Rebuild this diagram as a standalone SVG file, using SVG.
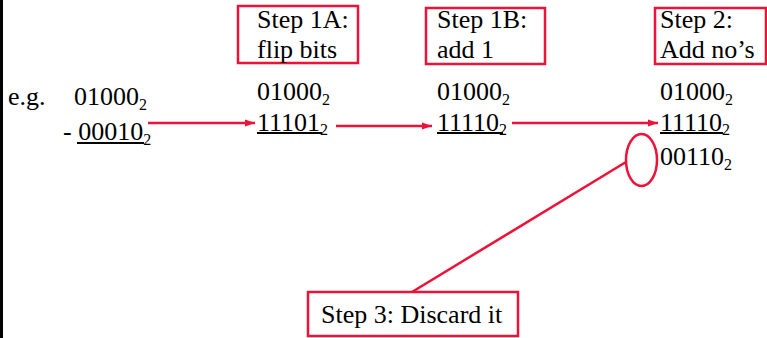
<svg xmlns="http://www.w3.org/2000/svg" width="767" height="338" viewBox="0 0 767 338">
  <defs>
    <style>
      .t { font-family: "Liberation Serif", "Times New Roman", serif; font-size: 26px; fill: #000; }
      .sub { font-size: 16px; }
      .box { fill: none; stroke: #ee1138; stroke-width: 2.5; }
      .wire { fill: none; stroke: #ee1138; stroke-width: 2.5; }
      .ul { stroke: #000; stroke-width: 2; }
    </style>
    <marker id="head" viewBox="0 0 10 10" refX="10" refY="5" markerWidth="10" markerHeight="10" markerUnits="userSpaceOnUse" orient="auto">
      <path d="M0,1.5 L10,5 L0,8.5 Z" fill="#ee1138"/>
    </marker>
  </defs>
  <rect width="767" height="338" fill="#fff"/>
  <line x1="1.5" y1="0" x2="1.5" y2="338" stroke="#000" stroke-width="3"/>

  <!-- worked example: 01000 - 00010 -->
  <g id="example" font-family="Liberation Serif, serif">
    <text class="t" x="8" y="105">e.g.</text>
    <text class="t" x="74" y="105">01000<tspan class="sub" dy="5">2</tspan></text>
    <text class="t" x="63" y="140">- 00010<tspan class="sub" dy="5">2</tspan></text>
    <line class="ul" x1="77" y1="143" x2="144" y2="143"/>
  </g>

  <g id="step1a">
    <rect class="box" x="238" y="6" width="120" height="57"/>
    <text class="t" x="257" y="28">Step 1A:</text>
    <text class="t" x="257" y="58">flip bits</text>
    <text class="t" x="257" y="100">01000<tspan class="sub" dy="5">2</tspan></text>
    <text class="t" x="257" y="131">11101<tspan class="sub" dy="4">2</tspan></text>
    <line class="ul" x1="257" y1="133" x2="322" y2="133"/>
  </g>

  <g id="step1b">
    <rect class="box" x="426" y="8" width="119" height="56"/>
    <text class="t" x="437" y="28">Step 1B:</text>
    <text class="t" x="437" y="58">add 1</text>
    <text class="t" x="437" y="100">01000<tspan class="sub" dy="5">2</tspan></text>
    <text class="t" x="437" y="131">11110<tspan class="sub" dy="4">2</tspan></text>
    <line class="ul" x1="437" y1="133" x2="503" y2="133"/>
  </g>

  <g id="step2">
    <rect class="box" x="655" y="8" width="111" height="56"/>
    <text class="t" x="660" y="28">Step 2:</text>
    <text class="t" x="660" y="58">Add no’s</text>
    <text class="t" x="660" y="100">01000<tspan class="sub" dy="5">2</tspan></text>
    <text class="t" x="660" y="131">11110<tspan class="sub" dy="4">2</tspan></text>
    <line class="ul" x1="660" y1="133" x2="723" y2="133"/>
    <text class="t" x="660" y="165">00110<tspan class="sub" dy="5">2</tspan></text>
  </g>

  <g id="carry">
    <ellipse class="box" cx="641.5" cy="160" rx="15.5" ry="26"/>
  </g>

  <g id="step3">
    <rect class="box" x="308" y="292" width="210" height="44"/>
    <text class="t" x="321" y="323">Step 3: Discard it</text>
  </g>

  <!-- connectors -->
  <g id="connectors">
    <line class="wire" x1="148" y1="123" x2="255" y2="123" marker-end="url(#head)"/>
    <line class="wire" x1="336" y1="126" x2="432" y2="126" marker-end="url(#head)"/>
    <line class="wire" x1="512" y1="123" x2="658" y2="123" marker-end="url(#head)"/>
    <line class="wire" x1="626" y1="162" x2="412" y2="292"/>
  </g>
</svg>
